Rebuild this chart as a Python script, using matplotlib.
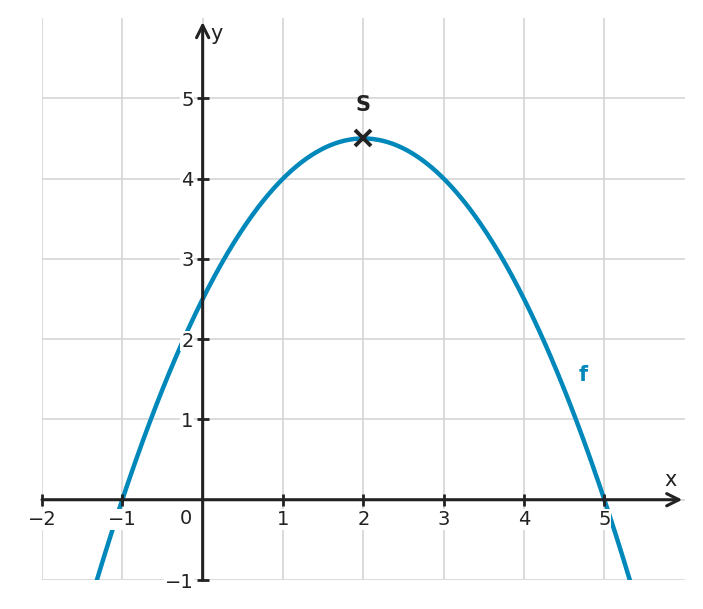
import numpy as np
import matplotlib.pyplot as plt

# parabola f(x) = a*(x - xs)^2 + ys, vertex S
a = -0.5
xs, ys = 2, 4.5
x_ticks = [-2, -1, 1, 2, 3, 4, 5]
y_ticks = [-1, 1, 2, 3, 4, 5]

dark = '#222222'
blue = '#0088bb'

fig = plt.figure(figsize=(7.03, 6.09), dpi=100)
ax = fig.add_axes([0.0597, 0.0476, 0.9143, 0.9228])
ax.set_xlim(-2, 6)
ax.set_ylim(-1, 6)
ax.set_axisbelow(False)

# grid
for gx in range(-2, 6):
    ax.axvline(gx, color='#d5d5d5', lw=1.2, zorder=0)
for gy in range(-1, 6):
    ax.axhline(gy, color='#d5d5d5', lw=1.2, zorder=0)

for s in ax.spines.values():
    s.set_visible(False)
ax.spines['left'].set_position(('data', 0))
ax.spines['bottom'].set_position(('data', 0))

# axes with arrows
ax.annotate('', xy=(5.97, 0), xytext=(-2, 0),
            arrowprops=dict(arrowstyle='->', lw=2.2, color=dark, mutation_scale=22,
                            shrinkA=0, shrinkB=0), zorder=3)
ax.annotate('', xy=(0, 5.95), xytext=(0, -1),
            arrowprops=dict(arrowstyle='->', lw=2.2, color=dark, mutation_scale=22,
                            shrinkA=0, shrinkB=0), zorder=3)

ax.set_xticks(x_ticks)
ax.set_yticks(y_ticks)
ax.set_xticklabels([str(t).replace('-', '\u2212') for t in x_ticks])
ax.set_yticklabels([str(t).replace('-', '\u2212') for t in y_ticks])
ax.tick_params(direction='inout', length=9, width=2, color=dark, labelsize=14,
               labelcolor=dark)
ax.tick_params(axis='x', pad=3)
ax.tick_params(axis='y', pad=2)
for lab in ax.get_xticklabels() + ax.get_yticklabels():
    lab.set_bbox(dict(facecolor='white', edgecolor='none', pad=0.5))
ax.text(-0.21, -0.24, '0', fontsize=14, color=dark, ha='center', va='center')

# curve
x = np.linspace(-2, 6, 400)
y = a * (x - xs) ** 2 + ys
ax.plot(x, y, color=blue, lw=3.2, zorder=2)
ax.plot([xs], [ys], marker='x', ms=11, mew=2.8, color=dark, zorder=4)

ax.text(xs, 4.92, 'S', fontsize=15, fontweight='bold', color=dark, ha='center', va='center')
ax.text(4.74, 1.55, 'f', fontsize=15, fontweight='bold', color=blue, ha='center', va='center')
ax.text(0.17, 5.8, 'y', fontsize=15, color=dark, ha='center', va='center')
ax.text(5.83, 0.25, 'x', fontsize=15, color=dark, ha='center', va='center')

fig.savefig('out.png', dpi=100)
